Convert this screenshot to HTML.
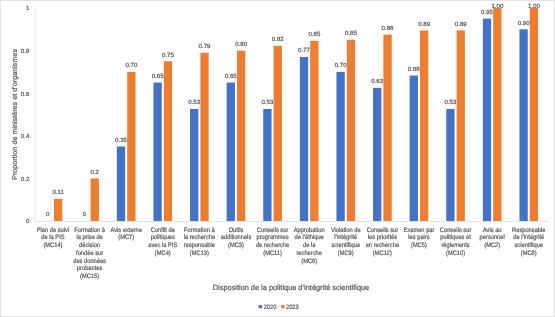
<!DOCTYPE html><html><head><meta charset="utf-8"><style>html,body{margin:0;padding:0;background:#fff;}svg{display:block;will-change:transform;}text{font-family:"Liberation Sans",sans-serif;fill:#595959;stroke:#595959;stroke-width:0.22px;text-rendering:geometricPrecision;}</style></head><body>
<svg width="555" height="317" viewBox="0 0 555 317">
<rect x="0" y="0" width="555" height="317" fill="#fff"/>
<rect x="0.5" y="0.5" width="554" height="316" fill="none" stroke="#e3e3e3" stroke-width="1"/>
<line x1="35" y1="8" x2="35" y2="221.4" stroke="#ececec" stroke-width="1"/>
<line x1="34.7" y1="221.5" x2="549" y2="221.5" stroke="#e3e3e3" stroke-width="1"/>
<text transform="translate(29.30 223.40) scale(1.000 1)" font-size="6.10" text-anchor="end">0</text>
<text transform="translate(29.30 180.80) scale(1.000 1)" font-size="6.10" text-anchor="end">0.2</text>
<text transform="translate(29.30 138.20) scale(1.000 1)" font-size="6.10" text-anchor="end">0.4</text>
<text transform="translate(29.30 95.60) scale(1.000 1)" font-size="6.10" text-anchor="end">0.6</text>
<text transform="translate(29.30 53.00) scale(1.000 1)" font-size="6.10" text-anchor="end">0.8</text>
<text transform="translate(29.30 10.40) scale(1.000 1)" font-size="6.10" text-anchor="end">1</text>
<text transform="translate(47.80 216.40) scale(1.000 1)" font-size="6.10" text-anchor="middle">0</text>
<rect x="54.00" y="198.85" width="8.30" height="22.15" fill="#ED7D31"/>
<text transform="translate(58.15 194.25) scale(1.000 1)" font-size="6.10" text-anchor="middle">0.11</text>
<text transform="translate(84.40 216.40) scale(1.000 1)" font-size="6.10" text-anchor="middle">0</text>
<rect x="90.60" y="178.40" width="8.30" height="42.60" fill="#ED7D31"/>
<text transform="translate(94.75 173.80) scale(1.000 1)" font-size="6.10" text-anchor="middle">0.2</text>
<rect x="116.85" y="146.45" width="8.30" height="74.55" fill="#4472C4"/>
<text transform="translate(121.00 141.85) scale(1.000 1)" font-size="6.10" text-anchor="middle">0.35</text>
<rect x="127.20" y="71.90" width="8.30" height="149.10" fill="#ED7D31"/>
<text transform="translate(131.35 67.30) scale(1.000 1)" font-size="6.10" text-anchor="middle">0.70</text>
<rect x="153.45" y="82.55" width="8.30" height="138.45" fill="#4472C4"/>
<text transform="translate(157.60 77.95) scale(1.000 1)" font-size="6.10" text-anchor="middle">0.65</text>
<rect x="163.80" y="61.25" width="8.30" height="159.75" fill="#ED7D31"/>
<text transform="translate(167.95 56.65) scale(1.000 1)" font-size="6.10" text-anchor="middle">0.75</text>
<rect x="190.05" y="108.96" width="8.30" height="112.04" fill="#4472C4"/>
<text transform="translate(194.20 104.36) scale(1.000 1)" font-size="6.10" text-anchor="middle">0.53</text>
<rect x="200.40" y="52.73" width="8.30" height="168.27" fill="#ED7D31"/>
<text transform="translate(204.55 48.13) scale(1.000 1)" font-size="6.10" text-anchor="middle">0.79</text>
<rect x="226.65" y="82.55" width="8.30" height="138.45" fill="#4472C4"/>
<text transform="translate(230.80 77.95) scale(1.000 1)" font-size="6.10" text-anchor="middle">0.65</text>
<rect x="237.00" y="50.60" width="8.30" height="170.40" fill="#ED7D31"/>
<text transform="translate(241.15 46.00) scale(1.000 1)" font-size="6.10" text-anchor="middle">0.80</text>
<rect x="263.25" y="108.96" width="8.30" height="112.04" fill="#4472C4"/>
<text transform="translate(267.40 104.36) scale(1.000 1)" font-size="6.10" text-anchor="middle">0.53</text>
<rect x="273.60" y="45.81" width="8.30" height="175.19" fill="#ED7D31"/>
<text transform="translate(277.75 41.21) scale(1.000 1)" font-size="6.10" text-anchor="middle">0.82</text>
<rect x="299.85" y="56.99" width="8.30" height="164.01" fill="#4472C4"/>
<text transform="translate(304.00 52.39) scale(1.000 1)" font-size="6.10" text-anchor="middle">0.77</text>
<rect x="310.20" y="40.80" width="8.30" height="180.20" fill="#ED7D31"/>
<text transform="translate(314.35 36.20) scale(1.000 1)" font-size="6.10" text-anchor="middle">0.85</text>
<rect x="336.45" y="71.90" width="8.30" height="149.10" fill="#4472C4"/>
<text transform="translate(340.60 67.30) scale(1.000 1)" font-size="6.10" text-anchor="middle">0.70</text>
<rect x="346.80" y="39.74" width="8.30" height="181.26" fill="#ED7D31"/>
<text transform="translate(350.95 35.14) scale(1.000 1)" font-size="6.10" text-anchor="middle">0.85</text>
<rect x="373.05" y="87.88" width="8.30" height="133.12" fill="#4472C4"/>
<text transform="translate(377.20 83.28) scale(1.000 1)" font-size="6.10" text-anchor="middle">0.63</text>
<rect x="383.40" y="34.62" width="8.30" height="186.38" fill="#ED7D31"/>
<text transform="translate(387.55 30.02) scale(1.000 1)" font-size="6.10" text-anchor="middle">0.88</text>
<rect x="409.65" y="75.52" width="8.30" height="145.48" fill="#4472C4"/>
<text transform="translate(413.80 70.92) scale(1.000 1)" font-size="6.10" text-anchor="middle">0.68</text>
<rect x="420.00" y="30.43" width="8.30" height="190.57" fill="#ED7D31"/>
<text transform="translate(424.15 25.83) scale(1.000 1)" font-size="6.10" text-anchor="middle">0.89</text>
<rect x="446.25" y="108.96" width="8.30" height="112.04" fill="#4472C4"/>
<text transform="translate(450.40 104.36) scale(1.000 1)" font-size="6.10" text-anchor="middle">0.53</text>
<rect x="456.60" y="30.43" width="8.30" height="190.57" fill="#ED7D31"/>
<text transform="translate(460.75 25.83) scale(1.000 1)" font-size="6.10" text-anchor="middle">0.89</text>
<rect x="482.85" y="18.65" width="8.30" height="202.35" fill="#4472C4"/>
<text transform="translate(487.00 14.05) scale(1.000 1)" font-size="6.10" text-anchor="middle">0.95</text>
<rect x="493.20" y="8.00" width="8.30" height="213.00" fill="#ED7D31"/>
<text transform="translate(497.35 7.80) scale(1.000 1)" font-size="6.10" text-anchor="middle">1.00</text>
<rect x="519.45" y="29.30" width="8.30" height="191.70" fill="#4472C4"/>
<text transform="translate(523.60 24.70) scale(1.000 1)" font-size="6.10" text-anchor="middle">0.90</text>
<rect x="529.80" y="8.00" width="8.30" height="213.00" fill="#ED7D31"/>
<text transform="translate(533.95 7.80) scale(1.000 1)" font-size="6.10" text-anchor="middle">1.00</text>
<text transform="translate(52.97 231.50) scale(0.880 1)" font-size="6.50" text-anchor="middle">Plan de suivi</text>
<text transform="translate(52.97 239.25) scale(0.880 1)" font-size="6.50" text-anchor="middle">de la PIS</text>
<text transform="translate(52.97 247.00) scale(0.880 1)" font-size="6.50" text-anchor="middle">(MC14)</text>
<text transform="translate(89.58 231.50) scale(0.880 1)" font-size="6.50" text-anchor="middle">Formation à</text>
<text transform="translate(89.58 239.25) scale(0.880 1)" font-size="6.50" text-anchor="middle">la prise de</text>
<text transform="translate(89.58 247.00) scale(0.880 1)" font-size="6.50" text-anchor="middle">décision</text>
<text transform="translate(89.58 254.75) scale(0.880 1)" font-size="6.50" text-anchor="middle">fondée sur</text>
<text transform="translate(89.58 262.50) scale(0.880 1)" font-size="6.50" text-anchor="middle">des données</text>
<text transform="translate(89.58 270.25) scale(0.880 1)" font-size="6.50" text-anchor="middle">probantes</text>
<text transform="translate(89.58 278.00) scale(0.880 1)" font-size="6.50" text-anchor="middle">(MC15)</text>
<text transform="translate(126.18 231.50) scale(0.880 1)" font-size="6.50" text-anchor="middle">Avis externe</text>
<text transform="translate(126.18 239.25) scale(0.880 1)" font-size="6.50" text-anchor="middle">(MC7)</text>
<text transform="translate(162.78 231.50) scale(0.880 1)" font-size="6.50" text-anchor="middle">Conflit de</text>
<text transform="translate(162.78 239.25) scale(0.880 1)" font-size="6.50" text-anchor="middle">politiques</text>
<text transform="translate(162.78 247.00) scale(0.880 1)" font-size="6.50" text-anchor="middle">avec la PIS</text>
<text transform="translate(162.78 254.75) scale(0.880 1)" font-size="6.50" text-anchor="middle">(MC4)</text>
<text transform="translate(199.38 231.50) scale(0.880 1)" font-size="6.50" text-anchor="middle">Formation à</text>
<text transform="translate(199.38 239.25) scale(0.880 1)" font-size="6.50" text-anchor="middle">la recherche</text>
<text transform="translate(199.38 247.00) scale(0.880 1)" font-size="6.50" text-anchor="middle">responsable</text>
<text transform="translate(199.38 254.75) scale(0.880 1)" font-size="6.50" text-anchor="middle">(MC13)</text>
<text transform="translate(235.97 231.50) scale(0.880 1)" font-size="6.50" text-anchor="middle">Outils</text>
<text transform="translate(235.97 239.25) scale(0.880 1)" font-size="6.50" text-anchor="middle">additionnels</text>
<text transform="translate(235.97 247.00) scale(0.880 1)" font-size="6.50" text-anchor="middle">(MC3)</text>
<text transform="translate(272.57 231.50) scale(0.880 1)" font-size="6.50" text-anchor="middle">Conseils sur</text>
<text transform="translate(272.57 239.25) scale(0.880 1)" font-size="6.50" text-anchor="middle">programmes</text>
<text transform="translate(272.57 247.00) scale(0.880 1)" font-size="6.50" text-anchor="middle">de recherche</text>
<text transform="translate(272.57 254.75) scale(0.880 1)" font-size="6.50" text-anchor="middle">(MC11)</text>
<text transform="translate(309.17 231.50) scale(0.880 1)" font-size="6.50" text-anchor="middle">Approbation</text>
<text transform="translate(309.17 239.25) scale(0.880 1)" font-size="6.50" text-anchor="middle">de l’éthique</text>
<text transform="translate(309.17 247.00) scale(0.880 1)" font-size="6.50" text-anchor="middle">de la</text>
<text transform="translate(309.17 254.75) scale(0.880 1)" font-size="6.50" text-anchor="middle">recherche</text>
<text transform="translate(309.17 262.50) scale(0.880 1)" font-size="6.50" text-anchor="middle">(MC6)</text>
<text transform="translate(345.77 231.50) scale(0.880 1)" font-size="6.50" text-anchor="middle">Violation de</text>
<text transform="translate(345.77 239.25) scale(0.880 1)" font-size="6.50" text-anchor="middle">l’intégrité</text>
<text transform="translate(345.77 247.00) scale(0.880 1)" font-size="6.50" text-anchor="middle">scientifique</text>
<text transform="translate(345.77 254.75) scale(0.880 1)" font-size="6.50" text-anchor="middle">(MC9)</text>
<text transform="translate(382.38 231.50) scale(0.880 1)" font-size="6.50" text-anchor="middle">Conseils sur</text>
<text transform="translate(382.38 239.25) scale(0.880 1)" font-size="6.50" text-anchor="middle">les priorités</text>
<text transform="translate(382.38 247.00) scale(0.880 1)" font-size="6.50" text-anchor="middle">en recherche</text>
<text transform="translate(382.38 254.75) scale(0.880 1)" font-size="6.50" text-anchor="middle">(MC12)</text>
<text transform="translate(418.97 231.50) scale(0.880 1)" font-size="6.50" text-anchor="middle">Examen par</text>
<text transform="translate(418.97 239.25) scale(0.880 1)" font-size="6.50" text-anchor="middle">les pairs</text>
<text transform="translate(418.97 247.00) scale(0.880 1)" font-size="6.50" text-anchor="middle">(MC5)</text>
<text transform="translate(455.57 231.50) scale(0.880 1)" font-size="6.50" text-anchor="middle">Conseils sur</text>
<text transform="translate(455.57 239.25) scale(0.880 1)" font-size="6.50" text-anchor="middle">politiques et</text>
<text transform="translate(455.57 247.00) scale(0.880 1)" font-size="6.50" text-anchor="middle">règlements</text>
<text transform="translate(455.57 254.75) scale(0.880 1)" font-size="6.50" text-anchor="middle">(MC10)</text>
<text transform="translate(492.18 231.50) scale(0.880 1)" font-size="6.50" text-anchor="middle">Avis au</text>
<text transform="translate(492.18 239.25) scale(0.880 1)" font-size="6.50" text-anchor="middle">personnel</text>
<text transform="translate(492.18 247.00) scale(0.880 1)" font-size="6.50" text-anchor="middle">(MC2)</text>
<text transform="translate(528.77 231.50) scale(0.880 1)" font-size="6.50" text-anchor="middle">Responsable</text>
<text transform="translate(528.77 239.25) scale(0.880 1)" font-size="6.50" text-anchor="middle">de l’intégrité</text>
<text transform="translate(528.77 247.00) scale(0.880 1)" font-size="6.50" text-anchor="middle">scientifique</text>
<text transform="translate(528.77 254.75) scale(0.880 1)" font-size="6.50" text-anchor="middle">(MC8)</text>
<text font-size="6.90" text-anchor="middle" transform="translate(17.00 114.40) rotate(-90) scale(1.045 1)">Proportion de ministères et d’organismes</text>
<text transform="translate(291.00 289.60) scale(0.970 1)" font-size="7.60" text-anchor="middle">Disposition de la politique d’intégrité scientifique</text>
<rect x="258.6" y="305" width="3.4" height="3.2" fill="#4472C4"/>
<text transform="translate(263.70 308.60) scale(0.900 1)" font-size="6.30" text-anchor="start">2020</text>
<rect x="281.2" y="305" width="3.5" height="3.2" fill="#ED7D31"/>
<text transform="translate(286.00 308.60) scale(0.900 1)" font-size="6.30" text-anchor="start">2023</text>
</svg></body></html>
